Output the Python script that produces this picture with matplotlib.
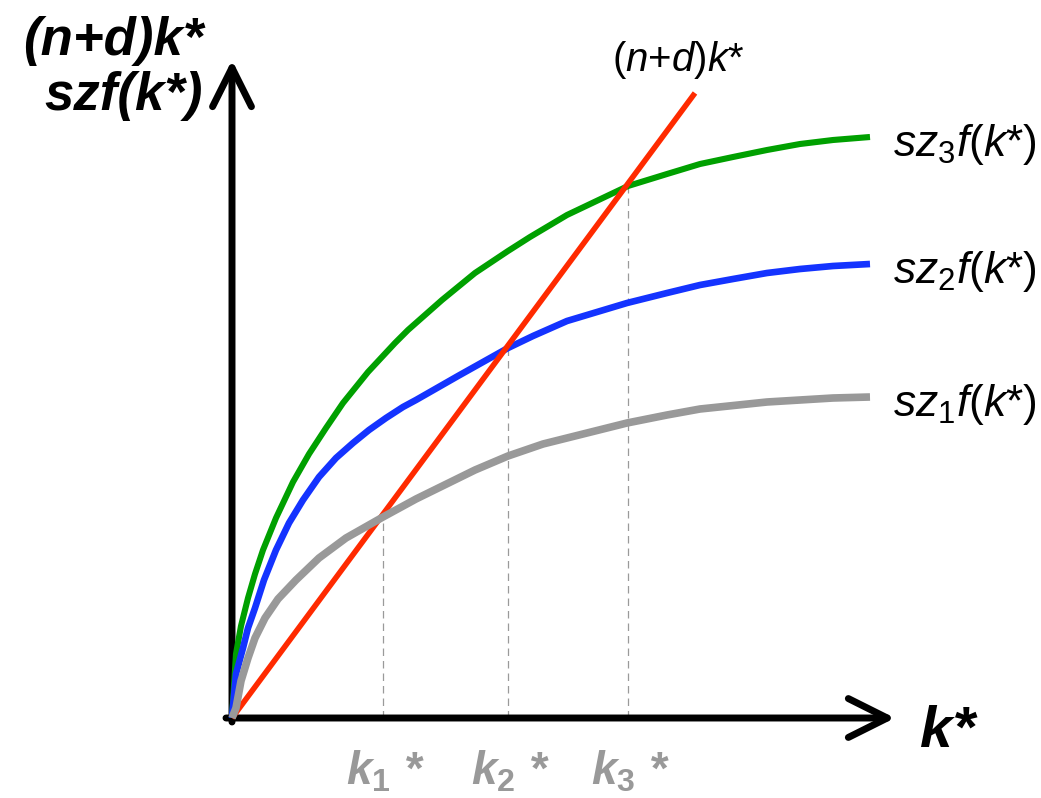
"""Solow model: steady-state k* for three productivity levels z1 < z2 < z3."""
import matplotlib
matplotlib.use("Agg")
import matplotlib.pyplot as plt
from matplotlib.patches import FancyArrowPatch, ArrowStyle

plt.rcParams["font.family"] = ["Liberation Sans", "DejaVu Sans"]
plt.rcParams["mathtext.fontset"] = "custom"
plt.rcParams["mathtext.rm"] = "Liberation Sans"
plt.rcParams["mathtext.it"] = "Liberation Sans:italic"
plt.rcParams["mathtext.bf"] = "Liberation Sans:bold"
plt.rcParams["mathtext.bfit"] = "Liberation Sans:italic:bold"

# values (pixel-ish units, origin at the axes corner)
gray_x = [0, 4, 9, 16, 23, 33, 46, 64, 87, 114, 151, 184, 243, 276, 311, 395, 435, 468, 535, 601, 638]
gray_y = [0, 10, 37, 60, 80, 100, 119, 138, 160, 180, 201, 219, 248, 262, 274, 295, 303, 309, 316, 320, 321]

blue_x = [0, 4, 11, 16, 23, 32, 44, 57, 71, 87, 104, 121, 137, 154, 171, 184, 226, 276,
          301, 335, 395, 435, 468, 501, 535, 568, 601, 638]
blue_y = [0, 44, 70, 90, 110, 138, 168, 195, 218, 241, 260, 275, 288, 300, 311, 318, 342, 370,
          382, 397, 415, 425, 433, 439, 445, 449, 452, 454]

green_x = [0, 4, 9, 16, 23, 31, 44, 61, 77, 94, 111, 136, 163, 176, 210, 243, 276, 298,
           335, 396, 435, 468, 501, 535, 568, 601, 638]
green_y = [0, 64, 92, 120, 144, 168, 200, 236, 264, 290, 315, 346, 375, 388, 418, 445, 467, 481,
           503, 532, 544, 554, 561, 568, 574, 578, 581]

line_x = [0, 463]
line_y = [0, 625]

k_star = [151, 276, 396]
k_height = [203, 372, 534]
k_labels = [r"$\mathbfit{k}_{\mathbf{1}}$ *", r"$\mathbfit{k}_{\mathbf{2}}$ *", r"$\mathbfit{k}_{\mathbf{3}}$ *"]

curve_labels = [r"$sz_1f(k$*)", r"$sz_2f(k$*)", r"$sz_3f(k$*)"]

GREEN = "#00a000"
BLUE = "#1433ff"
RED = "#ff2a00"
GRAY = "#999999"

fig = plt.figure(figsize=(10.41, 7.98), dpi=100)
ax = fig.add_axes([0, 0, 1, 1])
ax.set_xlim(-232, 809)
ax.set_ylim(-80, 718)
ax.axis("off")

# axes with open arrowheads
style = ArrowStyle("->", head_length=2.8, head_width=1.4)
for start, end in [((-6, 0), (663, 0)), ((0, -4), (0, 658))]:
    ax.add_patch(FancyArrowPatch(start, end, arrowstyle=style, mutation_scale=10,
                                 lw=5, color="black", capstyle="round",
                                 joinstyle="round", shrinkA=0, shrinkB=0, zorder=2))

# dashed drop lines to k*
for k, h in zip(k_star, k_height):
    ax.plot([k, k], [0, h], color="#9a9a9a", lw=0.9, ls=(0, (6, 4)), zorder=1)

ax.plot(green_x, green_y, color=GREEN, lw=4.4, solid_capstyle="butt",
        solid_joinstyle="round", zorder=3)
ax.plot(blue_x, blue_y, color=BLUE, lw=4.8, solid_capstyle="butt",
        solid_joinstyle="round", zorder=4)
ax.plot(line_x, line_y, color=RED, lw=4.0, solid_capstyle="butt", zorder=5)
ax.plot(gray_x, gray_y, color=GRAY, lw=5.5, solid_capstyle="butt",
        solid_joinstyle="round", zorder=6)

# labels
for xs, ys, lab in zip([gray_x, blue_x, green_x], [gray_y, blue_y, green_y], curve_labels):
    ax.text(xs[-1] + 23, ys[-1] - 19, lab, fontsize=32, ha="left", va="baseline")

ax.text(line_x[-1] - 17, line_y[-1] + 22, r"($n$+$d$)$k$*", fontsize=29,
        ha="center", va="baseline")

for k, lab in zip(k_star, k_labels):
    ax.text(k + 3, -67, lab, fontsize=33, color=GRAY, fontweight="bold",
            fontstyle="italic", ha="center", va="baseline")

ax.text(688, -29, "k*", fontsize=42, fontweight="bold", fontstyle="italic",
        ha="left", va="baseline")
ax.text(-29, 663, "(n+d)k*", fontsize=38, fontweight="bold", fontstyle="italic",
        ha="right", va="baseline")
ax.text(-29, 608, "szf(k*)", fontsize=38, fontweight="bold", fontstyle="italic",
        ha="right", va="baseline")

fig.savefig("out.png", dpi=100)
